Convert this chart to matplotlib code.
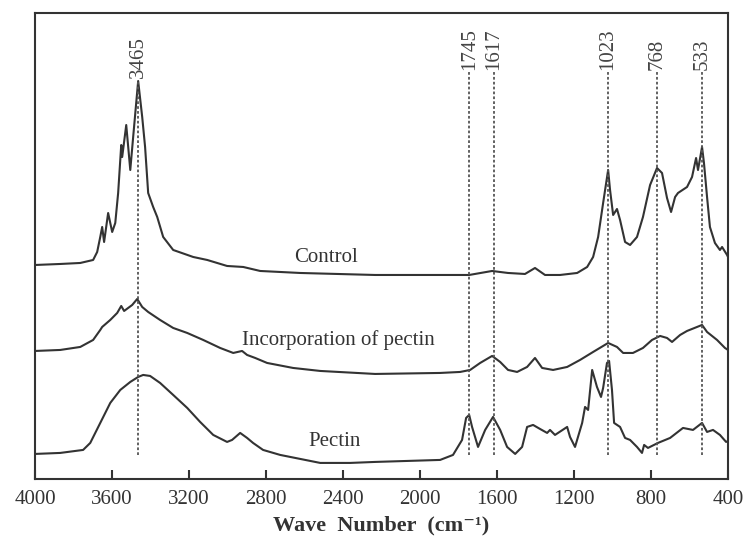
import numpy as np
import matplotlib
matplotlib.use('Agg')
import matplotlib.pyplot as plt

plt.rcParams['font.family'] = ['Liberation Serif', 'DejaVu Serif']

# FTIR spectra, wavenumber (cm-1) vs. intensity (a.u., stacked)
control_wn = [4000, 3870, 3766, 3699, 3678, 3662, 3652, 3642, 3621, 3600, 3584, 3569,
              3553, 3548, 3527, 3506, 3491, 3465, 3444, 3429, 3413, 3387, 3366, 3335,
              3283, 3179, 3106, 3003, 2919, 2831, 2623, 2234, 1745, 1626, 1543, 1455,
              1403, 1351, 1273, 1184, 1132, 1101, 1075, 1049, 1023, 1013, 997, 977,
              961, 935, 909, 873, 842, 805, 769, 743, 717, 696, 675, 660, 613, 587,
              566, 556, 535, 525, 509, 494, 468, 442, 431, 405, 400]
control_int = [214, 215, 216, 219, 227, 242, 252, 237, 266, 247, 256, 286,
               334, 322, 354, 309, 342, 398, 362, 332, 286, 272, 262, 242,
               229, 222, 219, 213, 212, 208, 206, 204, 204, 208, 206, 205,
               211, 204, 204, 206, 212, 222, 242, 276, 309, 289, 264, 270,
               259, 237, 234, 242, 262, 294, 311, 306, 281, 267, 282, 286, 292, 302,
               321, 309, 332, 316, 282, 252, 236, 229, 232, 224, 222]

incorp_wn = [4000, 3870, 3766, 3699, 3662, 3652, 3610, 3574, 3553, 3538, 3496, 3470,
             3444, 3413, 3351, 3283, 3210, 3127, 3039, 2971, 2925, 2899, 2857, 2795,
             2660, 2519, 2234, 1896, 1792, 1740, 1688, 1626, 1584, 1543, 1496, 1444,
             1403, 1366, 1309, 1236, 1169, 1101, 1023, 977, 945, 894, 842, 795, 753,
             717, 691, 649, 613, 535, 509, 457, 416, 400]
incorp_int = [128, 129, 132, 139, 149, 152, 159, 166, 173, 168, 174, 180,
              172, 167, 159, 151, 146, 139, 131, 126, 128, 124, 121, 116,
              111, 108, 105, 106, 107, 109, 116, 123, 117, 109, 107, 112,
              121, 111, 109, 112, 119, 127, 136, 132, 126, 126, 131, 139, 143,
              141, 137, 144, 148, 154, 147, 139, 131, 129]

pectin_wn = [4000, 3870, 3751, 3714, 3662, 3610, 3558, 3506, 3465, 3439, 3403, 3351,
             3283, 3210, 3143, 3075, 3003, 2977, 2935, 2899, 2868, 2816, 2727, 2519,
             2364, 2234, 1896, 1829, 1782, 1761, 1745, 1730, 1699, 1662, 1621, 1584,
             1548, 1506, 1470, 1444, 1413, 1377, 1340, 1325, 1299, 1236, 1221, 1195,
             1158, 1143, 1127, 1106, 1081, 1060, 1049, 1029, 1018, 1003, 992, 961,
             935, 909, 873, 847, 836, 816, 764, 701, 634, 582, 535, 509, 478, 442,
             410, 400]
pectin_int = [25, 26, 29, 36, 56, 76, 89, 97, 102, 104, 103, 96,
              84, 71, 57, 44, 37, 39, 46, 41, 36, 29, 24, 16,
              16, 17, 19, 24, 39, 61, 64, 52, 32, 49, 62, 49,
              32, 25, 32, 52, 54, 50, 46, 49, 44, 52, 42, 32,
              56, 72, 69, 109, 92, 82, 91, 116, 118, 89, 56, 52,
              41, 39, 32, 26, 34, 31, 36, 41, 51, 49, 56, 47, 49, 44,
              37, 38]

peaks = [3465, 1745, 1617, 1023, 768, 533]
peak_top = [399, 407, 407, 407, 407, 407]
line_bottom = 24

names = ['Control', 'Incorporation of pectin', 'Pectin']
name_pos = [(2488, 221), (2426, 139), (2447, 37)]

xticks = [4000, 3600, 3200, 2800, 2400, 2000, 1600, 1200, 800, 400]

fig = plt.figure(figsize=(7.49, 5.43), dpi=100)
ax = fig.add_axes([0.047, 0.118, 0.925, 0.858])

col = '#333333'
ax.plot(control_wn, control_int, color=col, lw=1.5)
ax.plot(incorp_wn, incorp_int, color=col, lw=1.5)
ax.plot(pectin_wn, pectin_int, color=col, lw=1.5)

ax.vlines(peaks, line_bottom, peak_top, colors='#555555', linestyles=(0, (1.5, 1.2)), lw=1.3)
for p, top in zip(peaks, peak_top):
    ax.text(p, top + 2, str(p), rotation=90, ha='center', va='bottom',
            fontsize=15, color='#444444')

for n, (x, y) in zip(names, name_pos):
    ax.text(x, y, n, ha='center', va='center', fontsize=15, color='#333333')

ax.set_xlim(4000, 400)
ax.set_ylim(0, 466)
ax.set_xticks(xticks)
ax.set_xticklabels([str(t) for t in xticks], fontsize=15, color='#333333')
ax.set_yticks([])
ax.tick_params(axis='x', direction='in', length=6.5, width=1.5, color='#333333', pad=8)
for s in ax.spines.values():
    s.set_linewidth(1.5)
    s.set_color('#333333')

ax.set_xlabel('Wave  Number  (cm\u207b\u00b9)', fontsize=16, fontweight='bold', color='#333333', labelpad=5)

fig.savefig('out.png', dpi=100)
